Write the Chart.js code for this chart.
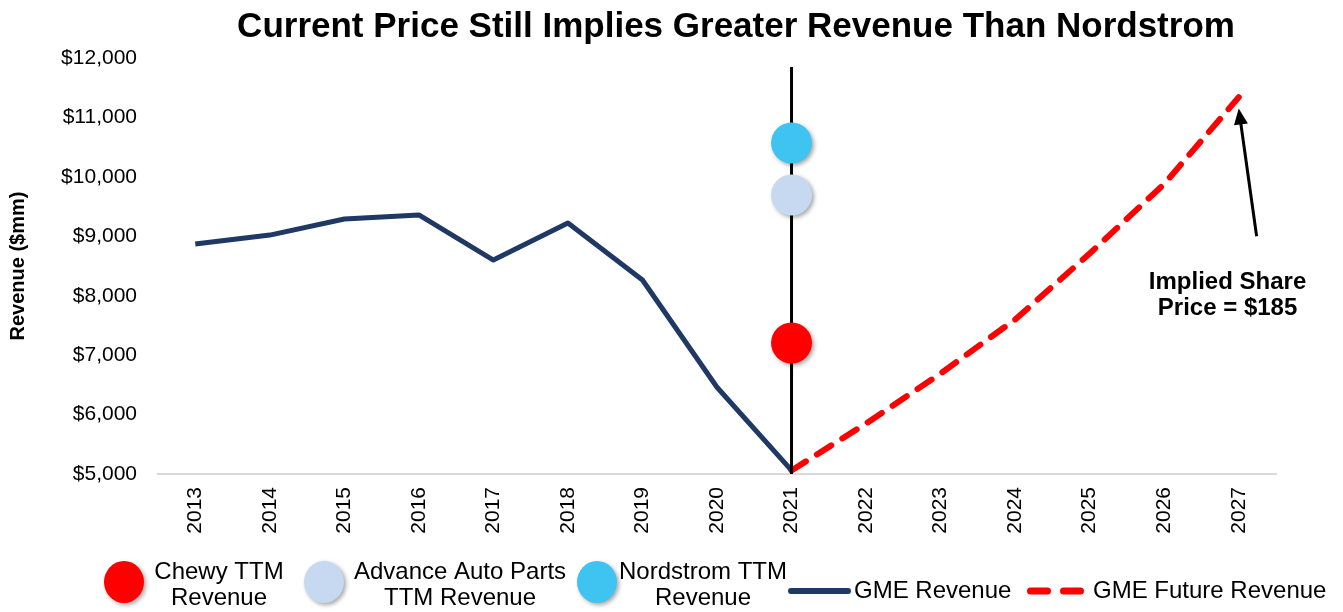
<!DOCTYPE html>
<html>
<head>
<meta charset="utf-8">
<script src="https://cdn.jsdelivr.net/npm/chart.js@4.4.1/dist/chart.umd.min.js"></script>
<style>
  html, body { margin: 0; padding: 0; background: #fff; }
  #wrap { width: 1343px; height: 612px; position: relative; }
</style>
</head>
<body>
<div id="wrap"><canvas id="chartGme"></canvas></div>
<script>
const years = ['2013', '2014', '2015', '2016', '2017', '2018', '2019', '2020', '2021',
               '2022', '2023', '2024', '2025', '2026', '2027'];
const gmeRevenue = [8870, 9020, 9290, 9360, 8600, 9225, 8265, 6460, 5060,
                    null, null, null, null, null, null];
const gmeFuture = [null, null, null, null, null, null, null, null, 5060,
                   5850, 6690, 7600, 8710, 9880, 11340];
const peerYear = '2021';
const chewyTtm = 7204;
const advanceTtm = 9695;
const nordstromTtm = 10570;
const markerTop = 11850;
const yTicks = { min: 5000, max: 12000, step: 1000 };

const fontFam = 'Arial, "Liberation Sans", sans-serif';
const navy = '#1f3864';
const red = '#ff0000';
const lightBlue = '#c6d9f0';
const cyan = '#3fc3f1';

const peerPoint = v => years.map(y => (y === peerYear ? v : null));

function withShadow(ctx, fn) {
    ctx.save();
    ctx.shadowColor = 'rgba(0,0,0,0.35)';
    ctx.shadowBlur = 4;
    ctx.shadowOffsetX = 2;
    ctx.shadowOffsetY = 2;
    fn();
    ctx.restore();
}

// drop shadow for the peer dots
const dotShadow = {
    id: 'dotShadow',
    beforeDatasetDraw(chart, args) {
        if (chart.data.datasets[args.index].shadow) {
            const ctx = chart.ctx;
            ctx.save();
            ctx.shadowColor = 'rgba(0,0,0,0.35)';
            ctx.shadowBlur = 4;
            ctx.shadowOffsetX = 2;
            ctx.shadowOffsetY = 2;
        }
    },
    afterDatasetDraw(chart, args) {
        if (chart.data.datasets[args.index].shadow) chart.ctx.restore();
    }
};

// title, arrow and the "Implied Share Price" note
const notes = {
    id: 'notes',
    afterDatasetsDraw(chart) {
        const { ctx, scales: { x, y } } = chart;
        ctx.save();
        ctx.fillStyle = '#000';
        ctx.textAlign = 'center';
        ctx.textBaseline = 'middle';
        ctx.font = 'bold 35px ' + fontFam;
        ctx.fillText('Current Price Still Implies Greater Revenue Than Nordstrom', 736, 27);

        const x1 = x.getPixelForValue(14.24), y1 = y.getPixelForValue(9000);
        const x2 = x.getPixelForValue(14.0), y2 = y.getPixelForValue(11150);
        const ang = Math.atan2(y2 - y1, x2 - x1);
        ctx.strokeStyle = '#000';
        ctx.lineWidth = 3;
        ctx.beginPath();
        ctx.moveTo(x1, y1);
        ctx.lineTo(x2 - 10 * Math.cos(ang), y2 - 10 * Math.sin(ang));
        ctx.stroke();
        ctx.beginPath();
        ctx.moveTo(x2, y2);
        ctx.lineTo(x2 - 16 * Math.cos(ang) + 7 * Math.sin(ang), y2 - 16 * Math.sin(ang) - 7 * Math.cos(ang));
        ctx.lineTo(x2 - 16 * Math.cos(ang) - 7 * Math.sin(ang), y2 - 16 * Math.sin(ang) + 7 * Math.cos(ang));
        ctx.closePath();
        ctx.fill();

        ctx.font = 'bold 24px ' + fontFam;
        const tx = x.getPixelForValue(13.85);
        ctx.fillText('Implied Share', tx, y.getPixelForValue(8220));
        ctx.fillText('Price = $185', tx, y.getPixelForValue(7780));
        ctx.restore();
    }
};

// legend row at the bottom
const bottomLegend = {
    id: 'bottomLegend',
    afterDraw(chart) {
        const ctx = chart.ctx;
        const cy = 582;
        ctx.save();
        ctx.font = '24px ' + fontFam;
        ctx.fillStyle = '#000';
        ctx.textAlign = 'center';
        ctx.textBaseline = 'middle';

        const dots = [
            { cx: 124, color: red, lines: ['Chewy TTM', 'Revenue'], tx: 219 },
            { cx: 324, color: lightBlue, lines: ['Advance Auto Parts', 'TTM Revenue'], tx: 460 },
            { cx: 597, color: cyan, lines: ['Nordstrom TTM', 'Revenue'], tx: 703 }
        ];
        dots.forEach(d => {
            withShadow(ctx, () => {
                ctx.fillStyle = d.color;
                ctx.beginPath();
                ctx.ellipse(d.cx, cy, 20, 21, 0, 0, Math.PI * 2);
                ctx.fill();
            });
            ctx.fillText(d.lines[0], d.tx, cy - 10);
            ctx.fillText(d.lines[1], d.tx, cy + 16);
        });

        ctx.lineCap = 'round';
        ctx.strokeStyle = navy;
        ctx.lineWidth = 6;
        ctx.beginPath();
        ctx.moveTo(791, 591);
        ctx.lineTo(848, 591);
        ctx.stroke();

        ctx.strokeStyle = red;
        ctx.lineWidth = 7;
        ctx.setLineDash([17, 16]);
        ctx.beginPath();
        ctx.moveTo(1030.5, 591);
        ctx.lineTo(1081, 591);
        ctx.stroke();
        ctx.setLineDash([]);

        ctx.textAlign = 'left';
        ctx.fillText('GME Revenue', 854, 591);
        ctx.fillText('GME Future Revenue', 1093, 591);
        ctx.restore();
    }
};

new Chart(document.getElementById('chartGme'), {
    type: 'line',
    data: {
        labels: years,
        datasets: [
            {
                label: 'Chewy TTM Revenue',
                data: peerPoint(chewyTtm),
                showLine: false,
                pointRadius: 20.5,
                pointBackgroundColor: red,
                pointBorderWidth: 0,
                shadow: true,
                order: 0
            },
            {
                label: 'Advance Auto Parts TTM Revenue',
                data: peerPoint(advanceTtm),
                showLine: false,
                pointRadius: 20.5,
                pointBackgroundColor: lightBlue,
                pointBorderWidth: 0,
                shadow: true,
                order: 0
            },
            {
                label: 'Nordstrom TTM Revenue',
                data: peerPoint(nordstromTtm),
                showLine: false,
                pointRadius: 20.5,
                pointBackgroundColor: cyan,
                pointBorderWidth: 0,
                shadow: true,
                order: 0
            },
            {
                label: 'marker',
                data: [{ x: peerYear, y: yTicks.min }, { x: peerYear, y: markerTop }],
                borderColor: '#000',
                borderWidth: 3,
                pointRadius: 0,
                order: 1
            },
            {
                label: 'GME Revenue',
                data: gmeRevenue,
                borderColor: navy,
                borderWidth: 5,
                pointRadius: 0,
                borderJoinStyle: 'round',
                order: 2
            },
            {
                label: 'GME Future Revenue',
                data: gmeFuture,
                borderColor: red,
                borderWidth: 6,
                borderDash: [17, 13],
                borderCapStyle: 'round',
                pointRadius: 0,
                order: 2
            }
        ]
    },
    options: {
        responsive: true,
        maintainAspectRatio: false,
        animation: false,
        layout: { padding: { left: 0, right: 67, top: 58, bottom: 74 } },
        plugins: {
            legend: { display: false },
            tooltip: { enabled: false },
            title: { display: false }
        },
        scales: {
            x: {
                offset: true,
                grid: { display: false, drawTicks: false, offset: true },
                border: { display: true, color: '#d9d9d9', width: 2 },
                ticks: {
                    color: '#000',
                    font: { family: fontFam, size: 21 },
                    minRotation: 90,
                    maxRotation: 90,
                    padding: 13
                },
                afterFit(scale) { scale.height = 64; }
            },
            y: {
                min: yTicks.min,
                max: yTicks.max,
                grid: { display: false, drawTicks: false },
                border: { display: false },
                ticks: {
                    stepSize: yTicks.step,
                    color: '#000',
                    font: { family: fontFam, size: 21 },
                    padding: 21,
                    callback: v => '$' + v.toLocaleString('en-US')
                },
                title: {
                    display: true,
                    text: 'Revenue ($mm)',
                    color: '#000',
                    font: { family: fontFam, size: 20, weight: 'bold' },
                    padding: { top: 6, bottom: 0 }
                },
                afterFit(scale) { scale.width = 158; }
            }
        }
    },
    plugins: [dotShadow, notes, bottomLegend]
});
</script>
</body>
</html>
